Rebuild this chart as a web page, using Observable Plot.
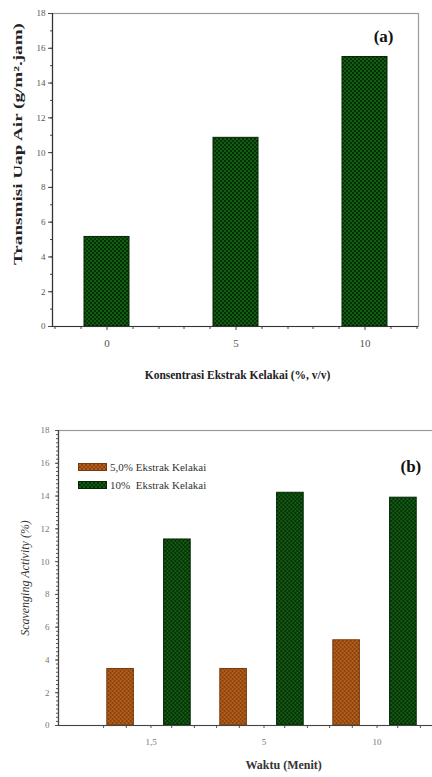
<!DOCTYPE html>
<html><head><meta charset="utf-8">
<script src="https://cdn.jsdelivr.net/npm/d3@7"></script>
<script src="https://cdn.jsdelivr.net/npm/@observablehq/plot@0.6"></script>
<style>
body{margin:0;background:#fff;width:432px;height:777px;overflow:hidden;font-family:"Liberation Serif","DejaVu Serif",serif}
#a{position:relative;width:432px;height:390px;overflow:hidden}
#b{position:relative;width:432px;height:387px;overflow:hidden}
#a svg,#b svg{max-width:none !important}
.leg{position:absolute;left:78px;height:10px;font-family:"Liberation Serif","DejaVu Serif",serif;font-size:11px;color:#333;display:flex;align-items:center;white-space:pre;line-height:10px}
.sw{width:29px;height:8px;margin-right:3px;box-sizing:border-box}
.sw.o{background-color:#b4601c;background-image:conic-gradient(#8a430f 25%,transparent 0 50%,#8a430f 0 75%,transparent 0);background-size:4px 4px;border:1px solid #7a3a0c}
.sw.g{background-color:#135c13;background-image:conic-gradient(#063006 25%,transparent 0 50%,#063006 0 75%,transparent 0);background-size:4px 4px;border:1px solid #042404}
</style></head><body>
<svg width="0" height="0" style="position:absolute">
<defs>
<pattern id="pg" width="4" height="4" patternUnits="userSpaceOnUse"><rect width="4" height="4" fill="#135c13"/><rect width="2" height="2" fill="#063006"/><rect x="2" y="2" width="2" height="2" fill="#063006"/></pattern>
<pattern id="po" width="4" height="4" patternUnits="userSpaceOnUse"><rect width="4" height="4" fill="#b4601c"/><rect width="2" height="2" fill="#8a430f"/><rect x="2" y="2" width="2" height="2" fill="#8a430f"/></pattern>
</defs></svg>
<div id="a"></div>
<div id="b">
  <div class="leg" style="top:72px"><div class="sw o"></div><span id="l1"></span></div>
  <div class="leg" style="top:90px"><div class="sw g"></div><span id="l2"></span></div>
</div>
<script>
// ---- data (a) ----
const concA = ["0", "5", "10"];
const transA = [5.15, 10.85, 15.5];
// ---- data (b) ----
const timeB = ["1,5", "5", "10"];
const ext5 = [3.45, 3.45, 5.2];
const ext10 = [11.35, 14.2, 13.9];
const seriesB = ["5,0% Ekstrak Kelakai", "10%  Ekstrak Kelakai"];
const yTicks = [0, 2, 4, 6, 8, 10, 12, 14, 16, 18];
const labelsA = {x: "Konsentrasi Ekstrak Kelakai (%, v/v)", y: "Transmisi Uap Air (g/m\u00B2.jam)", tag: "(a)"};
const labelsB = {x: "Waktu (Menit)", y: "Scavenging Activity (%)", tag: "(b)"};

const serif = '"Liberation Serif", "DejaVu Serif", serif';
const dataA = concA.map((c, i) => ({c, v: transA[i]}));
const dataB5 = timeB.map((t, i) => ({t, v: ext5[i]}));
const dataB10 = timeB.map((t, i) => ({t, v: ext10[i]}));

function minorAxesX(step, mults, opts) {
  return mults.map(m => Plot.axisX({dx: m * step, text: null, tickSize: 3, stroke: "#444", label: null, ...opts}));
}

const pa = Plot.plot({
  width: 432, height: 390, marginLeft: 52, marginRight: 14, marginTop: 13, marginBottom: 64,
  style: {fontFamily: serif, background: "transparent", maxWidth: "none"},
  x: {type: "band", domain: concA, paddingInner: 0.654, paddingOuter: 0.235, axis: null},
  y: {domain: [0, 18], axis: null},
  marks: [
    Plot.frame({stroke: "#9a9a9a", strokeWidth: 1.2}),
    Plot.barY(dataA, {x: "c", y: "v", fill: "url(#pg)", stroke: "#042404", strokeWidth: 1}),
    Plot.axisY({ticks: yTicks, tickSize: 4, tickPadding: 3, fontSize: 9, fill: "#555", stroke: "#444", label: null}),
    Plot.axisY({ticks: d3.range(0, 18.01, 1), tickSize: 2, text: null, stroke: "#444", label: null}),
    Plot.axisX({tickSize: 4, tickPadding: 9, fontSize: 11, fill: "#555", stroke: "#444", label: null}),
    ...minorAxesX(26, [-2, -1, 1, 2]),
    Plot.ruleY([0], {stroke: "#333", strokeWidth: 1.2}),
    Plot.frame({anchor: "left", stroke: "#333", strokeWidth: 1.2}),
    Plot.text([labelsA.y], {frameAnchor: "left", dx: -34, dy: -26, rotate: -90, fontWeight: "bold", fontSize: 11.5, fill: "#222", textAnchor: "middle"}),
    Plot.text([labelsA.x], {frameAnchor: "bottom", dx: 2, dy: 52, fontWeight: "bold", fontSize: 11.5, fill: "#222"}),
    Plot.text([labelsA.tag], {frameAnchor: "top-right", dx: -25, dy: 16, fontWeight: "bold", fontSize: 17, fill: "#111"})
  ]
});
document.getElementById("a").appendChild(pa);
// stretch the y label like the original
const ya = [...pa.querySelectorAll("text")].find(t => t.textContent === labelsA.y);
if (ya) { ya.setAttribute("textLength", 242); ya.setAttribute("lengthAdjust", "spacingAndGlyphs"); }

const pb = Plot.plot({
  width: 480, height: 387, marginLeft: 58, marginRight: 15, marginTop: 40, marginBottom: 52,
  style: {fontFamily: serif, background: "transparent", maxWidth: "none"},
  x: {type: "band", domain: timeB, paddingInner: 0, paddingOuter: 0.293, axis: null},
  y: {domain: [0, 18], axis: null},
  marks: [
    Plot.frame({stroke: "#9a9a9a", strokeWidth: 1.2}),
    Plot.barY(dataB5, {x: "t", y: "v", dx: -28.4, insetLeft: 43.2, insetRight: 43.2, fill: "url(#po)", stroke: "#7a3a0c", strokeWidth: 1}),
    Plot.barY(dataB10, {x: "t", y: "v", dx: 28.4, insetLeft: 43.2, insetRight: 43.2, fill: "url(#pg)", stroke: "#042404", strokeWidth: 1}),
    Plot.axisY({ticks: yTicks, tickSize: 3, tickPadding: 6, fontSize: 9, fill: "#777", stroke: "#555", label: null}),
    Plot.axisY({ticks: d3.range(0, 18.01, 0.25), tickSize: 2, text: null, stroke: "#555", label: null}),
    Plot.axisX({tickSize: 3, tickPadding: 10, fontSize: 9, fill: "#777", stroke: "#555", label: null, dx: 2}),
    ...minorAxesX(22.7, [-2, -1, 1, 2], {stroke: "#555"}),
    Plot.ruleY([0], {stroke: "#444", strokeWidth: 1.2}),
    Plot.frame({anchor: "left", stroke: "#444", strokeWidth: 1.2}),
    Plot.text([labelsB.y], {frameAnchor: "left", dx: -33, rotate: -90, fontStyle: "italic", fontSize: 12, fill: "#333", textAnchor: "middle"}),
    Plot.text([labelsB.x], {frameAnchor: "bottom-left", dx: 187, dy: 43, fontWeight: "bold", fontSize: 12, fill: "#333"}),
    Plot.text([labelsB.tag], {frameAnchor: "top-left", dx: 342, dy: 29, fontWeight: "bold", fontSize: 17, fill: "#111"})
  ]
});
document.getElementById("b").insertBefore(pb, document.getElementById("b").firstChild);
document.getElementById("l1").textContent = seriesB[0];
document.getElementById("l2").textContent = seriesB[1];
</script>
</body></html>
